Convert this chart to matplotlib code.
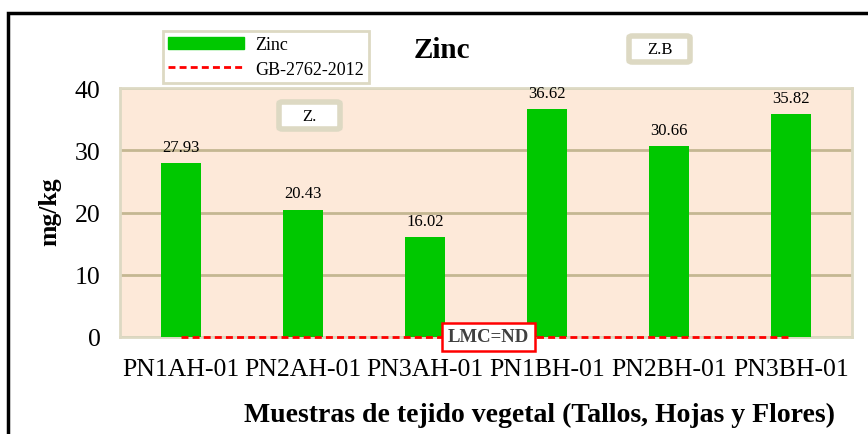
import matplotlib
matplotlib.use("Agg")
import matplotlib.pyplot as plt
from matplotlib.patches import Patch, Rectangle, FancyBboxPatch
from matplotlib.lines import Line2D

muestras = ["PN1AH-01", "PN2AH-01", "PN3AH-01", "PN1BH-01", "PN2BH-01", "PN3BH-01"]
zinc = [27.93, 20.43, 16.02, 36.62, 30.66, 35.82]
limite = [0, 0, 0, 0, 0, 0]
y_ticks = [0, 10, 20, 30, 40]

plt.rcParams['font.family'] = ['Liberation Serif', 'DejaVu Serif']

W, H = 868, 435
fig = plt.figure(figsize=(W / 100, H / 100), dpi=100)


def fx(px):
    return px / W


def fy(py):
    return 1 - py / H


# outer frame
fig.patches.append(Rectangle((fx(7.5), -0.1), 1.2, fy(13.5) + 0.1, transform=fig.transFigure,
                             fill=False, ec='black', lw=2.5, zorder=0))

ax = fig.add_axes([fx(120), fy(338), fx(852) - fx(120), fy(89) - fy(338)])
ax.set_facecolor('#fde9d9')
x = list(range(len(muestras)))
ax.bar(x, zinc, width=0.33, color='#00c800', zorder=3)
ax.plot(x, limite, color='red', ls='--', lw=2, dashes=(2.5, 1.5), zorder=4, clip_on=False)

for i, v in enumerate(zinc):
    ax.annotate(f"{v:.2f}", (i, v), xytext=(0, 9), textcoords='offset points',
                ha='center', va='baseline', fontsize=12)

ax.set_xlim(-0.5, len(muestras) - 0.5)
ax.set_ylim(0, 40)
ax.set_yticks(y_ticks)
ax.set_xticks(x)
ax.set_xticklabels(muestras)
ax.tick_params(axis='both', length=0, labelsize=18.5)
ax.tick_params(axis='y', pad=14)
ax.tick_params(axis='x', pad=15)
ax.yaxis.grid(True, color='#c4b792', lw=2, zorder=1)
ax.set_axisbelow(True)
for s in ax.spines.values():
    s.set_color('#ddd9c3')
    s.set_linewidth(2)

ax.text(2.52, 0, "LMC=ND", ha='center', va='center', fontsize=13.5, fontweight='bold',
        color='#404040', zorder=6,
        bbox=dict(boxstyle='square,pad=0.3', fc='white', ec='red', lw=1.8))

fig.text(fx(442), fy(51), "Zinc", ha='center', va='center', fontsize=21, fontweight='bold')
fig.text(fx(50), fy(212), "mg/kg", ha='center', va='center', rotation=90,
         fontsize=18.5, fontweight='bold')
fig.text(fx(539), fy(415), "Muestras de tejido vegetal (Tallos, Hojas y Flores)",
         ha='center', va='center', fontsize=20, fontweight='bold')

# small note boxes
for (x0, y0, x1, y1, txt) in [(629, 37, 690, 63, "Z.B"), (279, 103, 340, 130, "Z.")]:
    fig.patches.append(FancyBboxPatch((fx(x0), fy(y1)), fx(x1) - fx(x0), fy(y0) - fy(y1),
                                      boxstyle='round,pad=0,rounding_size=0.004',
                                      transform=fig.transFigure, fc='white', ec='#ddd9c3',
                                      lw=4, zorder=5))
    fig.text(fx((x0 + x1) / 2), fy(y1 - 5), txt, ha='center', va='bottom', fontsize=12,
             zorder=6)

handles = [Patch(color='#00c800', label='Zinc'),
           Line2D([], [], color='red', ls='--', lw=2, dashes=(2.5, 1.5), label='GB-2762-2012')]
leg = fig.legend(handles=handles, loc='upper left', bbox_to_anchor=(fx(163), fy(32)),
                 bbox_transform=fig.transFigure, borderaxespad=0, fontsize=13,
                 handlelength=4.2, handleheight=0.7, fancybox=False, framealpha=1,
                 borderpad=0.3, labelspacing=0.4, handletextpad=0.6)
leg.get_frame().set_edgecolor('#ddd9c3')
leg.get_frame().set_linewidth(2)

fig.savefig("out.png", dpi=100)
